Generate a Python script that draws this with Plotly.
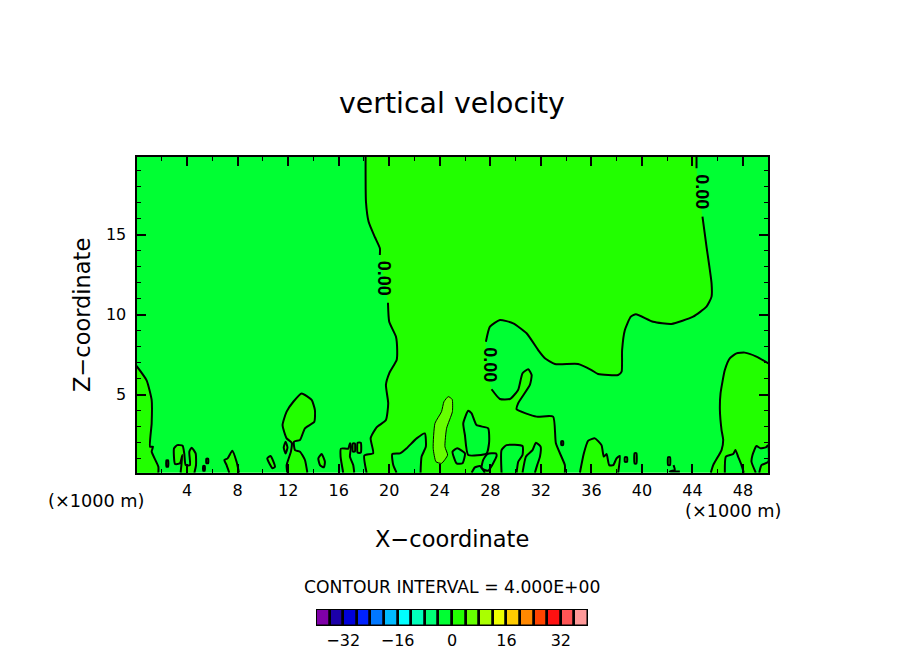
import plotly.graph_objects as go

W, H = 904, 654

# Contour lines, (x km, z km)
main_left = [(18.13,19.875),(18.16,17.06),(18.37,15.81),(18.87,14.84),(19.26,14.15),(19.26,13.73)]
main_left2 = [(19.90,10.75),(20.0,9.56),(20.53,8.63),(20.63,7.79),(20.59,7.17),(20.0,6.34),(19.74,5.61),
              (19.92,4.46),(19.74,3.42),(19.0,2.96),(18.53,2.28),(18.73,1.34),(18.03,1.2),(18.21,0.125)]
main_mid = [(33.9,0.125),(33.9,0.6),(33.19,1.96),(32.97,3.63),(31.66,3.63),(30.08,4.09),(30.2,4.46),(31.13,5.61),
            (31.27,6.23),(31.0,6.59),(30.55,6.34),(30.2,5.29),(29.55,4.73),(28.76,4.73),(28.1,5.34)]
main_mid2 = [(27.65,8.31),(27.97,9.25),(28.76,9.67),(29.81,9.46),(30.87,8.84),(31.79,7.79),(32.32,7.28),(33.11,6.92),
             (34.95,6.92),(36.01,6.54),(36.53,6.29),(38.12,6.23),(38.39,6.44),(38.43,7.79),(38.65,9.04),(39.12,9.88),
             (39.52,10.03),(40.89,9.56),(42.34,9.42),(44.05,9.88),(45.11,10.5),(45.51,11.13),(45.51,11.96),
             (45.11,14.25),(44.79,16.13)]
main_top = [(44.32,19.15),(44.32,19.875)]

left_corner = [(0,6.8),(0.8,5.9),(1.2,4.67),(1.2,3.21),(1.07,1.75),(1.3,1.75),(1.2,1.44),(1.73,0.5),(1.73,0.125)]
right_hump = [(50,6.96),(49.06,7.38),(48.14,7.63),(47.48,7.58),(46.95,7.27),(46.56,6.54),(46.22,5.08),(46.17,4.04),
              (46.30,2.79),(46.43,2.17),(46.30,1.54),(45.64,0.6),(45.45,0.125)]

# Regions of the lower band lying inside the upper band
low_r1 = [(46.56,0.125),(46.64,1.13),(47.22,1.29),(47.40,1.54),(47.61,1.13),(47.88,0.6),(48.06,0.125)]
low_r2 = [(49.01,0.125),(48.67,0.81),(48.75,1.23),(49.06,1.79),(49.38,1.65),(49.80,1.71),(50,1.85),(50,0.8),(49.46,0.6),(49.28,0.125)]
low_c1 = [(25.86,3.21),(26.25,4.0),(26.52,3.83),(26.91,3.10),(27.83,2.90),(27.91,2.06),(27.70,1.33),(26.25,1.23),(25.99,2.48),(25.86,3.21)]
low_c2 = [(28.89,0.125),(28.89,1.54),(29.29,1.85),(30.55,1.79),(30.55,1.23),(30.21,0.81),(30.08,0.125)]
low_c3 = [(30.55,0.125),(30.82,1.13),(31.34,1.54),(31.61,2.0),(31.98,1.75),(31.93,1.13),(31.71,0.6),(31.53,0.125)]
low_c4 = [(25.01,1.44),(25.38,1.65),(25.99,1.33),(25.8,0.71),(25.33,0.71),(25.01,1.44)]
low_c5 = [(27.76,1.29),(28.44,1.33),(28.5,1.17),(27.83,0.25),(27.31,0.4),(27.44,0.92),(27.76,1.29)]
low_c6 = [(26.52,0.125),(26.78,0.46),(27.18,0.54),(27.57,0.125)]
low_c7 = [(20.58,0.125),(20.32,0.6),(20.24,1.29),(20.85,1.33),(21.38,1.65),(22.17,2.27),(22.82,2.58),(22.9,1.75),(22.56,1.13),(22.48,0.125)]
low_regions = [low_r1, low_r2, low_c1, low_c2, low_c3, low_c4, low_c5, low_c6, low_c7]

# Regions of the upper band lying inside the lower band
up_a = [(35.09,0.125),(35.40,1.33),(35.75,2.13),(36.28,2.27),(36.80,1.85),(36.98,1.13),(37.2,1.29),(37.41,0.6),(37.73,0.6),(37.99,1.02),(38.25,1.17),(38.12,0.125)]
up_b = [(11.93,0.125),(11.88,0.6),(12.22,1.44),(12.28,2.0),(11.88,2.27),(11.56,3.1),(11.88,3.94),(12.41,4.56),(13.07,5.08),
        (13.86,4.67),(14.12,4.04),(14.07,3.31),(13.33,2.9),(12.94,2.17),(12.46,2.06),(12.54,1.54),(12.94,1.44),(13.33,0.92),(13.52,0.125)]
up_c = [(16.36,0.125),(16.15,1.13),(16.18,1.63),(16.76,1.63),(16.89,1.96),(16.97,1.75),(16.89,1.13),(17.15,0.6),(17.23,0.125)]
up_d = [(7.34,0.125),(7.13,0.6),(6.95,0.92),(7.21,1.02),(7.58,1.5),(7.92,0.81),(8.11,0.125)]
up_e = [(3.49,0.125),(3.63,1.23),(3.44,0.71),(3.05,0.67),(2.97,1.65),(3.23,1.85),(3.65,1.81),(3.78,1.33),(3.89,0.6),(4.23,0.6),
        (4.18,1.44),(4.37,1.69),(4.68,1.33),(4.71,0.6),(4.58,0.125)]
oval_1 = [(11.8,2.06),(11.95,1.7),(11.8,1.33),(11.65,1.7),(11.8,2.06)]
oval_2 = [(10.35,1.02),(10.61,1.17),(10.96,0.5),(10.77,0.4),(10.35,1.02)]
oval_3 = [(14.65,1.29),(14.91,0.81),(14.83,0.46),(14.52,0.6),(14.39,1.02),(14.65,1.29)]
oval_4 = [(17.12,1.96),(17.28,1.96),(17.28,1.44),(17.12,1.44),(17.12,1.96)]
oval_5 = [(17.5,2.0),(17.75,2.0),(17.75,1.38),(17.5,1.38),(17.5,2.0)]
oval_6 = [(33.62,2.1),(33.76,2.1),(33.76,1.85),(33.62,1.85),(33.62,2.1)]
oval_7 = [(38.65,1.1),(38.82,1.1),(38.82,0.8),(38.65,0.8),(38.65,1.1)]
oval_8 = [(39.42,1.35),(39.56,1.35),(39.56,0.7),(39.42,0.7),(39.42,1.35)]
oval_9 = [(42.07,1.1),(42.22,1.1),(42.22,0.6),(42.07,0.6),(42.07,1.1)]
oval_10 = [(2.37,0.9),(2.5,0.9),(2.5,0.5),(2.37,0.5),(2.37,0.9)]
oval_11 = [(5.53,1.0),(5.67,1.0),(5.67,0.72),(5.53,0.72),(5.53,1.0)]
oval_12 = [(5.28,0.55),(5.4,0.55),(5.4,0.25),(5.28,0.25),(5.28,0.55)]
up_regions = [up_a, up_b, up_c, up_d, up_e, oval_1, oval_2, oval_3, oval_4, oval_5, oval_6, oval_7, oval_8, oval_9, oval_10, oval_11, oval_12]

# The thin 4 m/s contour
light_blob = [(24.67,4.88),(24.98,4.71),(25.0,3.94),(24.54,2.9),(24.41,1.75),(24.62,1.23),(24.14,0.71),(23.7,0.81),
              (23.48,1.65),(23.62,3.21),(24.14,3.94),(24.33,4.56),(24.67,4.88)]
stub = [(42.5,0.6),(42.6,0.3),(42.2,0.2),(43.0,0.2)]

# Contour labels
label_x = [19.6, 27.97, 44.74]
label_z = [12.3, 6.85, 17.67]
label_text = ["0.00", "0.00", "0.00"]

# Colour key
key_levels = [-38,-34,-30,-26,-22,-18,-14,-10,-6,-2,2,6,10,14,18,22,26,30,34,38]
key_colors = ["#7f00a8","#1c00a8","#0000d8","#0022ff","#0077ff","#00bbff","#00ffff","#00ffbb","#00ff77","#00ff33",
              "#22ff00","#66ff00","#aaff00","#eeff00","#ffcc00","#ff8800","#ff4400","#ff1111","#ff5555","#ff9999"]
key_ticks = [-32,-16,0,16,32]
x_ticks = [4,8,12,16,20,24,28,32,36,40,44,48]
z_ticks = [5,10,15]

LOW, UP, LIGHT = "#00ff33", "#22ff00", "#66ff00"
FONT = "DejaVu Sans"

def xs(p): return [a for a, _ in p]
def zs(p): return [b for _, b in p]

fig = go.Figure()

def fill(points, color):
    fig.add_trace(go.Scatter(x=xs(points), y=zs(points), mode="lines", fill="toself", fillcolor=color,
                             line=dict(width=0, shape="spline", smoothing=0.5), hoverinfo="skip", showlegend=False))

def line(points, width=2):
    fig.add_trace(go.Scatter(x=xs(points), y=zs(points), mode="lines",
                             line=dict(color="black", width=width, shape="spline", smoothing=0.5),
                             hoverinfo="skip", showlegend=False))

main_region = main_left + main_left2 + main_mid + main_mid2 + main_top
fill(main_region, UP)
fill(left_corner + [(0,0.125)], UP)
fill(right_hump + [(50,0.125)], UP)
for r in low_regions:
    fill(r, LOW)
for r in up_regions:
    fill(r, UP)
fill(light_blob, LIGHT)

for seg in [main_left, main_left2, main_mid, main_mid2, main_top, left_corner, right_hump, stub] + low_regions + up_regions:
    line(seg)
line(light_blob, 1)

for x, z, t in zip(label_x, label_z, label_text):
    fig.add_annotation(x=x, y=z, xref="x", yref="y", text=t, textangle=90, showarrow=False,
                       font=dict(family="Liberation Sans", size=18, color="black", weight="bold"))

fig.add_trace(go.Bar(x=key_levels, y=[1]*len(key_levels), width=4, cliponaxis=False,
                     marker=dict(color=key_colors, line=dict(color="black", width=2.5)),
                     xaxis="x2", yaxis="y2", hoverinfo="skip", showlegend=False))

axis_common = dict(showgrid=False, zeroline=False, showline=True, linecolor="black", linewidth=2, mirror="ticks",
                   ticks="inside", ticklen=9, tickwidth=2, tickcolor="black",
                   tickfont=dict(family=FONT, size=16, color="black"))
fig.update_layout(
    width=W, height=H, margin=dict(l=0, r=0, t=0, b=0), paper_bgcolor="white", plot_bgcolor=LOW, showlegend=False,
    xaxis=dict(domain=[136.5/W, 768.3/W], range=[0, 50], tickmode="array", tickvals=x_ticks, ticklabelstandoff=2,
               minor=dict(tickmode="array", tickvals=list(range(2, 50, 2)), ticks="inside", ticklen=4, tickwidth=1, tickcolor="black"),
               **axis_common),
    yaxis=dict(domain=[1-472.7/H, 1-156.7/H], range=[0.125, 19.875], tickmode="array", tickvals=z_ticks, ticklabelstandoff=5,
               minor=dict(tickmode="array", tickvals=list(range(1, 20)), ticks="inside", ticklen=4, tickwidth=1, tickcolor="black"),
               **axis_common),
    xaxis2=dict(domain=[316/W, 588/W], range=[-40, 40], anchor="y2", tickmode="array", tickvals=key_ticks, ticks="", showgrid=False,
                zeroline=False, showline=False, ticklabelstandoff=3, tickfont=dict(family=FONT, size=16, color="black")),
    yaxis2=dict(domain=[1-626/H, 1-609/H], range=[0, 1], anchor="x2", showticklabels=False, ticks="", showgrid=False,
                zeroline=False, showline=False),
    bargap=0,
)

def text(px, py, s, size, angle=0):
    fig.add_annotation(x=px/W, y=1-py/H, xref="paper", yref="paper", text=s, showarrow=False, textangle=angle,
                       xanchor="center", yanchor="middle", font=dict(family=FONT, size=size, color="black"))

text(452, 104, "vertical velocity", 28.4)
text(452, 539, "X\u2212coordinate", 22.5)
text(82, 315, "Z\u2212coordinate", 22.5, -90)
text(96, 501, "(\u00d71000 m)", 17.7)
text(733, 511, "(\u00d71000 m)", 17.7)
text(452, 587, "CONTOUR INTERVAL = 4.000E+00", 17.2)

fig.write_html("out.html", config=dict(displayModeBar=False),
               post_script="document.body.style.margin='0';document.body.style.overflow='hidden';")
